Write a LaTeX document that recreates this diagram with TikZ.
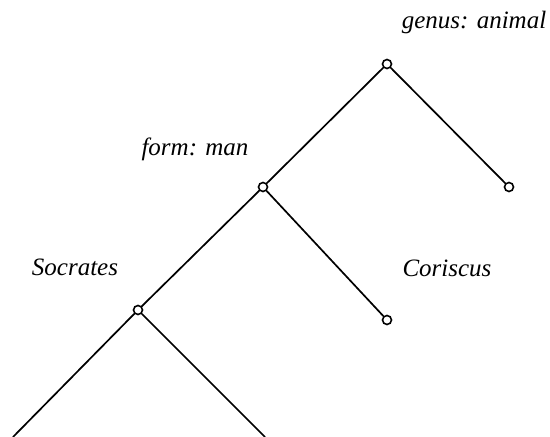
\documentclass[tikz,border=0pt]{standalone}
\usepackage{fontspec}
\newfontfamily\labfont{Liberation Serif}[UprightFont={* Italic}]
\begin{document}
\begin{tikzpicture}[x=1pt,y=-1pt,
  vert/.style={circle,draw,line width=1.6pt,inner sep=0pt,minimum size=9pt,fill=white},
  edge/.style={line width=1.7pt},
  lab/.style={font=\labfont\fontsize{25}{30}\selectfont,anchor=base,inner sep=0pt}]
\useasboundingbox (0,0) rectangle (550,437);
\coordinate (bl) at (13,437);
\coordinate (br) at (265,437);
\node[vert] (g) at (387,64) {};
\node[vert] (f) at (263,187) {};
\node[vert] (gr) at (509,187) {};
\node[vert] (s) at (138,310) {};
\node[vert] (fr) at (387,320) {};
\draw[edge] (g) -- (f);
\draw[edge] (g) -- (gr);
\draw[edge] (f) -- (s);
\draw[edge] (f) -- (fr);
\draw[edge] (s) -- (bl);
\draw[edge] (s) -- (br);
\node[lab] (tg) at (474,28) {genus: animal};
\node[lab] (tf) at (195,155) {form: man};
\node[lab] (ts) at (75,275) {Socrates};
\node[lab] (tc) at (447,276) {Coriscus};
\end{tikzpicture}
\end{document}
